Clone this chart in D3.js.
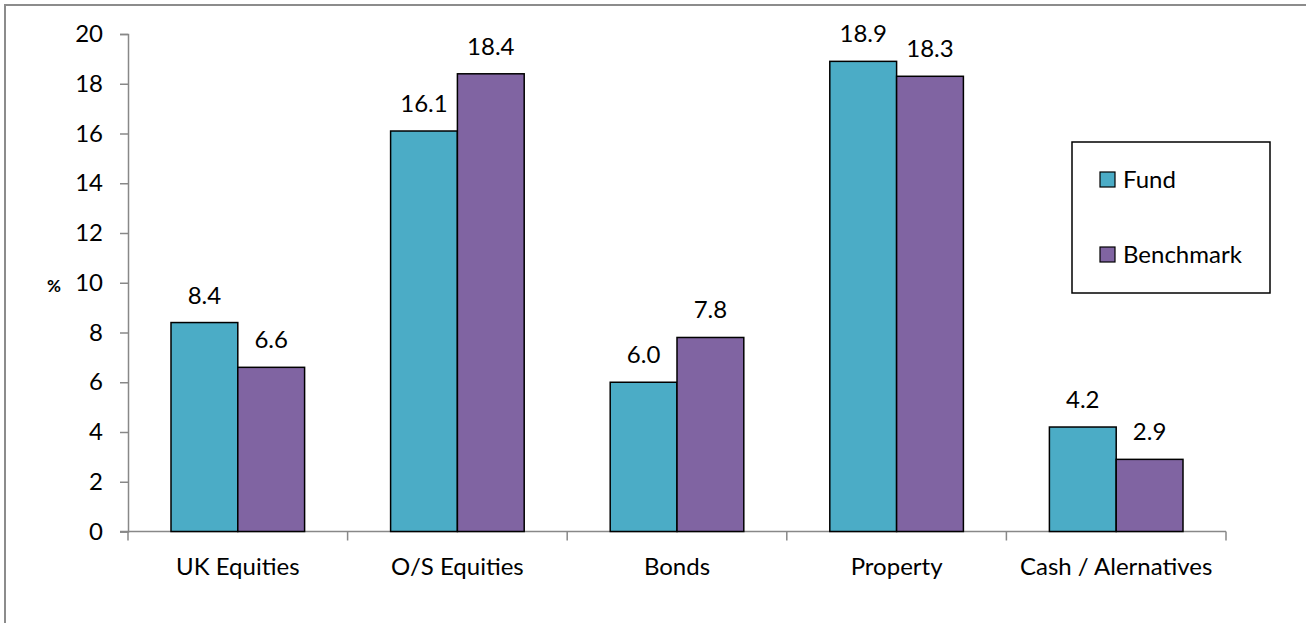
<!DOCTYPE html>
<html>
<head>
<meta charset="utf-8">
<script src="https://cdn.jsdelivr.net/npm/d3@7"></script>
<style>
  body { margin: 0; background: #fff; }
  svg text { font-family: Lato, "Open Sans", sans-serif; }
</style>
</head>
<body>
<svg id="chart" width="1306" height="623"></svg>
<script>
var categories = ["UK Equities", "O/S Equities", "Bonds", "Property", "Cash / Alernatives"];
var seriesNames = ["Fund", "Benchmark"];
var fund = [8.4, 16.1, 6.0, 18.9, 4.2];
var benchmark = [6.6, 18.4, 7.8, 18.3, 2.9];
var yTicks = [0, 2, 4, 6, 8, 10, 12, 14, 16, 18, 20];
var colors = ["#4BACC6", "#8064A2"];

var svg = d3.select("#chart");
var plotLeft = 128, plotRight = 1226, plotTop = 34, plotBottom = 531.5;
var fontSize = 24;

// outer frame (only top and left edges show in the picture)
svg.append("rect")
    .attr("x", 5).attr("y", 5)
    .attr("width", 1320).attr("height", 640)
    .attr("fill", "none")
    .attr("stroke", "#8c8c8c")
    .attr("stroke-width", 2);

var x = d3.scaleBand().domain(categories).range([plotLeft, plotRight]);
var x1 = d3.scaleBand().domain(seriesNames).range([43, x.bandwidth() - 43]);
var y = d3.scaleLinear().domain([0, 20]).range([plotBottom, plotTop]);

var data = categories.map(function (c, i) {
    return { cat: c, values: [fund[i], benchmark[i]] };
});

// y axis
var yAxis = svg.append("g")
    .attr("transform", "translate(" + plotLeft + ",0)")
    .call(d3.axisLeft(y).tickValues(yTicks).tickSize(8).tickPadding(17).tickFormat(d3.format("d")));
yAxis.select(".domain").attr("stroke", "#888").attr("stroke-width", 1.5);
yAxis.selectAll(".tick line").attr("stroke", "#888").attr("stroke-width", 1.5);
yAxis.selectAll("text").attr("font-size", fontSize).attr("fill", "#000")
    .attr("font-family", "Lato, 'Open Sans', sans-serif");

// x axis
var xAxis = svg.append("g")
    .attr("transform", "translate(0," + plotBottom + ")");
xAxis.append("line")
    .attr("x1", plotLeft - 8).attr("x2", plotRight)
    .attr("stroke", "#888").attr("stroke-width", 1.5);
var edges = d3.range(categories.length + 1).map(function (i) { return plotLeft + i * x.step(); });
xAxis.selectAll(".cattick")
    .data(edges)
    .enter()
    .append("line")
    .attr("class", "cattick")
    .attr("x1", function (d) { return d; })
    .attr("x2", function (d) { return d; })
    .attr("y1", 0).attr("y2", 9)
    .attr("stroke", "#888").attr("stroke-width", 1.5);
xAxis.selectAll(".catlabel")
    .data(categories)
    .enter()
    .append("text")
    .attr("class", "catlabel")
    .attr("x", function (d) { return x(d) + x.bandwidth() / 2; })
    .attr("y", 43)
    .attr("text-anchor", "middle")
    .attr("font-size", fontSize)
    .text(function (d) { return d; });

// % label
svg.append("text")
    .attr("x", 54).attr("y", 292)
    .attr("text-anchor", "middle")
    .attr("font-size", 17)
    .attr("font-weight", "bold")
    .text("%");

// bars
var groups = svg.selectAll(".cat")
    .data(data)
    .enter()
    .append("g")
    .attr("class", "cat")
    .attr("transform", function (d) { return "translate(" + x(d.cat) + ",0)"; });

groups.selectAll("rect")
    .data(function (d) { return d.values.map(function (v, j) { return { s: seriesNames[j], v: v, j: j }; }); })
    .enter()
    .append("rect")
    .attr("x", function (d) { return x1(d.s); })
    .attr("y", function (d) { return y(d.v); })
    .attr("width", x1.bandwidth())
    .attr("height", function (d) { return y(0) - y(d.v); })
    .attr("fill", function (d) { return colors[d.j]; })
    .attr("stroke", "#000")
    .attr("stroke-width", 1.5);

groups.selectAll(".val")
    .data(function (d) { return d.values.map(function (v, j) { return { s: seriesNames[j], v: v }; }); })
    .enter()
    .append("text")
    .attr("class", "val")
    .attr("x", function (d) { return x1(d.s) + x1.bandwidth() / 2; })
    .attr("y", function (d) { return y(d.v) - 19; })
    .attr("text-anchor", "middle")
    .attr("font-size", fontSize)
    .text(function (d) { return d3.format(".1f")(d.v); });

// legend
var legend = svg.append("g");
legend.append("rect")
    .attr("x", 1072).attr("y", 142)
    .attr("width", 198).attr("height", 151)
    .attr("fill", "#fff")
    .attr("stroke", "#000")
    .attr("stroke-width", 1.5);
var items = legend.selectAll(".item")
    .data(seriesNames)
    .enter()
    .append("g")
    .attr("class", "item")
    .attr("transform", function (d, i) { return "translate(1100," + (172 + i * 75) + ")"; });
items.append("rect")
    .attr("width", 15).attr("height", 15)
    .attr("fill", function (d, i) { return colors[i]; })
    .attr("stroke", "#000")
    .attr("stroke-width", 1.2);
items.append("text")
    .attr("x", 23).attr("y", 16)
    .attr("font-size", fontSize)
    .text(function (d) { return d; });
</script>
</body>
</html>
